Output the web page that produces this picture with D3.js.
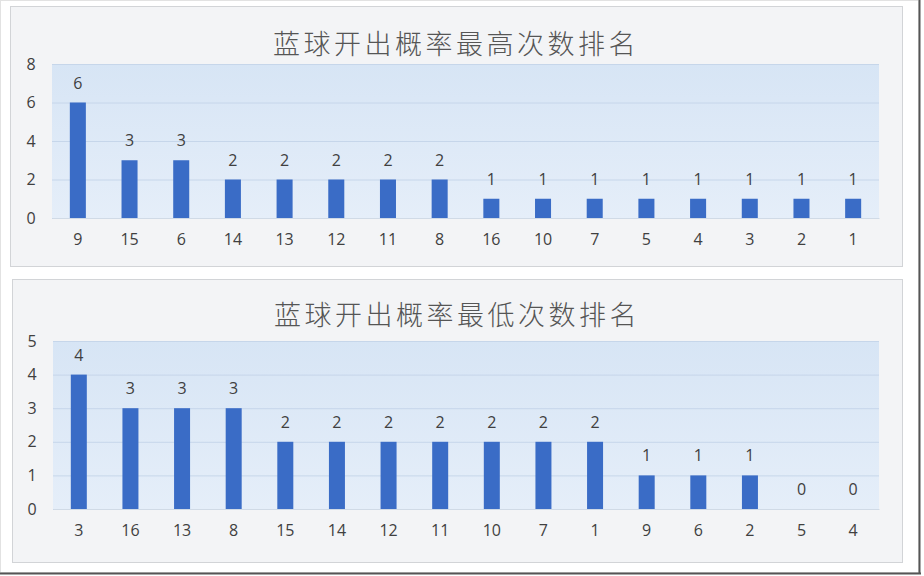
<!DOCTYPE html>
<html><head><meta charset="utf-8">
<script src="https://cdn.jsdelivr.net/npm/d3@7/dist/d3.min.js"></script>
<style>body{margin:0;background:#fff}svg{display:block}</style>
</head><body>
<svg id="c" width="924" height="576"></svg>
<script>
const title1 = "蓝球开出概率最高次数排名";
const cats1 = ["9","15","6","14","13","12","11","8","16","10","7","5","4","3","2","1"];
const vals1 = [6,3,3,2,2,2,2,2,1,1,1,1,1,1,1,1];
const ticks1 = [0,2,4,6,8];

const title2 = "蓝球开出概率最低次数排名";
const cats2 = ["3","16","13","8","15","14","12","11","10","7","1","9","6","2","5","4"];
const vals2 = [4,3,3,3,2,2,2,2,2,2,2,1,1,1,0,0];
const ticks2 = [0,1,2,3,4,5];

const svg = d3.select("#c");
const defs = svg.append("defs");
const g = defs.append("linearGradient").attr("id","pg").attr("x1",0).attr("y1",0).attr("x2",0).attr("y2",1);
g.append("stop").attr("offset","0%").attr("stop-color","#d7e5f5");
g.append("stop").attr("offset","100%").attr("stop-color","#e5eef9");

// frame
svg.append("rect").attr("x",0.5).attr("y",0.5).attr("width",918).attr("height",572).attr("fill","#fff").attr("stroke","#e2e2e2");
svg.append("line").attr("x1",919.5).attr("x2",919.5).attr("y1",0).attr("y2",574).attr("stroke","#555").attr("stroke-width",2);
svg.append("line").attr("x1",0).attr("x2",921).attr("y1",573.5).attr("y2",573.5).attr("stroke","#555").attr("stroke-width",2);

const numFont = "'Open Sans', 'Noto Sans', sans-serif";
const cjkFont = "'Noto Sans CJK SC', sans-serif";

function panel(cfg){
  const {title, cats, vals, ticks, box, plot, titleY} = cfg;
  svg.append("rect").attr("x",box[0]+0.5).attr("y",box[1]+0.5).attr("width",box[2]-box[0]).attr("height",box[3]-box[1])
    .attr("fill","#f3f4f6").attr("stroke","#d2d4d7");
  const x = d3.scaleBand().domain(cats).range([plot.l, plot.r]).paddingInner(0.69).paddingOuter(0.345);
  const y = d3.scaleLinear().domain([0, d3.max(ticks)]).range([plot.b, plot.t]);
  svg.append("rect").attr("x",plot.l).attr("y",plot.t).attr("width",plot.r-plot.l).attr("height",plot.b-plot.t).attr("fill","url(#pg)");
  const ya = d3.axisLeft(y).tickValues(ticks).tickSize(-(plot.r-plot.l)).tickFormat(d3.format("d"));
  const ag = svg.append("g").attr("transform",`translate(${plot.l},0)`).call(ya);
  ag.select(".domain").remove();
  ag.selectAll(".tick line").attr("stroke","#c6d6ea").attr("stroke-width",1);
  ag.selectAll(".tick text").attr("x",-21).attr("text-anchor","middle").attr("font-size",16).attr("font-family",numFont).attr("fill","#404040");
  const xa = d3.axisBottom(x).tickSize(0).tickPadding(16);
  const xg = svg.append("g").attr("transform",`translate(0,${plot.b})`).call(xa);
  xg.select(".domain").attr("stroke","#d0dae6");
  xg.selectAll(".tick text").attr("font-size",16).attr("font-family",numFont).attr("fill","#404040");
  svg.append("g").selectAll("rect").data(vals).join("rect")
    .attr("x",(d,i)=>x(cats[i])).attr("width",x.bandwidth())
    .attr("y",d=>y(d)).attr("height",d=>y(0)-y(d)).attr("fill","#3a6cc6");
  svg.append("g").selectAll("text").data(vals).join("text")
    .attr("x",(d,i)=>x(cats[i])+x.bandwidth()/2).attr("y",d=>y(d)-14)
    .attr("text-anchor","middle").attr("font-size",16).attr("font-family",numFont).attr("fill","#404040")
    .text(d=>d);
  svg.append("text").attr("x",(box[0]+box[2])/2).attr("y",titleY).attr("text-anchor","middle")
    .attr("font-size",27).attr("letter-spacing",3.5).attr("font-family",cjkFont).attr("font-weight",300).attr("fill","#555").text(title);
}

panel({title:title1, cats:cats1, vals:vals1, ticks:ticks1, box:[10,6,902,266], plot:{l:52,r:879,t:64,b:218}, titleY:54});
panel({title:title2, cats:cats2, vals:vals2, ticks:ticks2, box:[12,279,902,562], plot:{l:53,r:879,t:341,b:509}, titleY:325});
</script>
</body></html>
